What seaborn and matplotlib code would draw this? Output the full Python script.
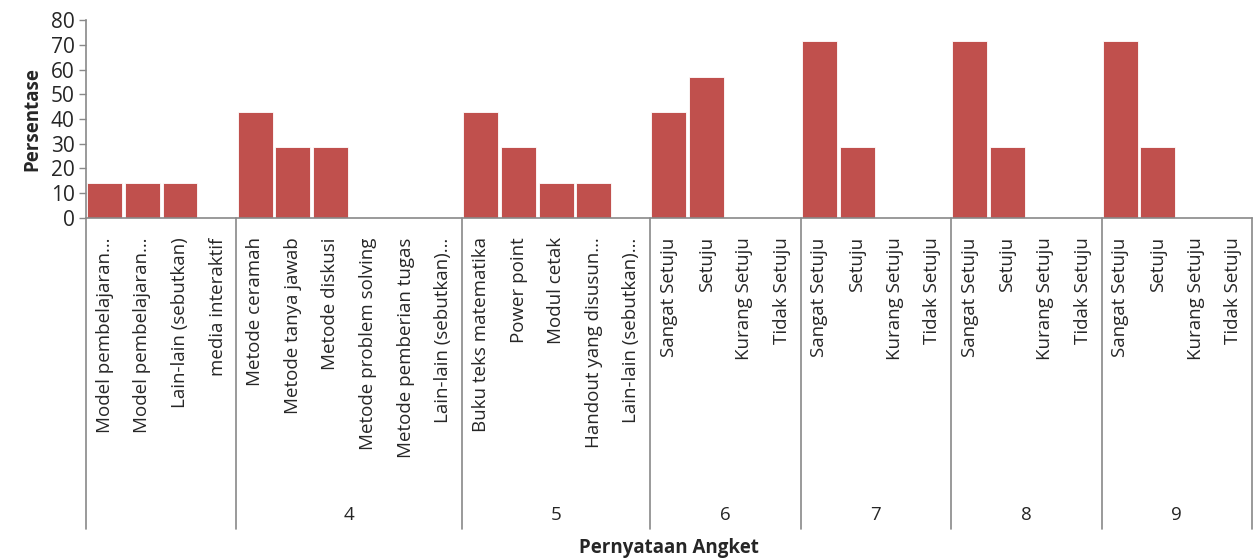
import matplotlib
matplotlib.use("Agg")
import matplotlib.pyplot as plt
import matplotlib.transforms as mtransforms
import pandas as pd
import seaborn as sns

# Response categories, grouped by questionnaire item
group_names = ["", "4", "5", "6", "7", "8", "9"]
group_items = [
    ["Model pembelajaran…", "Model pembelajaran…", "Lain-lain (sebutkan)", "media interaktif"],
    ["Metode ceramah", "Metode tanya jawab", "Metode diskusi", "Metode problem solving",
     "Metode pemberian tugas", "Lain-lain (sebutkan)…"],
    ["Buku teks matematika", "Power point", "Modul cetak", "Handout yang disusun…",
     "Lain-lain (sebutkan)…"],
    ["Sangat Setuju", "Setuju", "Kurang Setuju", "Tidak Setuju"],
    ["Sangat Setuju", "Setuju", "Kurang Setuju", "Tidak Setuju"],
    ["Sangat Setuju", "Setuju", "Kurang Setuju", "Tidak Setuju"],
    ["Sangat Setuju", "Setuju", "Kurang Setuju", "Tidak Setuju"],
]
group_values = [
    [14.3, 14.3, 14.3, 0],
    [42.9, 28.6, 28.6, 0, 0, 0],
    [42.9, 28.6, 14.3, 14.3, 0],
    [42.9, 57.1, 0, 0],
    [71.4, 28.6, 0, 0],
    [71.4, 28.6, 0, 0],
    [71.4, 28.6, 0, 0],
]

rows = []
for g, (name, items, vals) in enumerate(zip(group_names, group_items, group_values)):
    for item, v in zip(items, vals):
        rows.append({"kode": f"{g}-{len(rows)}", "grup": name, "label": item, "persen": v})
df = pd.DataFrame(rows)

sns.set_style("white")
plt.rcParams["font.family"] = ["Open Sans", "DejaVu Sans"]

fig = plt.figure(figsize=(12.53, 5.6), dpi=100)
ax = fig.add_axes([0.0686, 0.611, 0.9306, 0.353])

BAR = "#C0504D"
LINE = "#898989"

sns.barplot(data=df, x="kode", y="persen", order=list(df["kode"]), color=BAR,
            saturation=1, width=0.93, edgecolor="white", linewidth=0.6, ax=ax)

n = len(df)
ax.set_xlim(-0.5, n - 0.5)
ax.set_ylim(0, 80)
ax.set_yticks(range(0, 81, 10))
ax.tick_params(axis="y", labelsize=15, length=5, width=1, color=LINE, pad=3, left=True)
ax.set_xticks(range(n))
ax.set_xticklabels(df["label"], rotation=90, fontsize=13.5)
ax.tick_params(axis="x", length=0, pad=14)

for side in ["top", "right"]:
    ax.spines[side].set_visible(False)
for side in ["left", "bottom"]:
    ax.spines[side].set_color(LINE)
    ax.spines[side].set_linewidth(1.2)

ax.set_ylabel("Persentase", fontsize=13.5, fontweight="bold", labelpad=6)
ax.set_xlabel("")

# Group separators and group labels below the category axis
trans = mtransforms.blended_transform_factory(ax.transData, ax.transAxes)
start = -0.5
edges = [start]
for items in group_items:
    edges.append(edges[-1] + len(items))
for e in edges:
    ax.plot([e, e], [0, -1.576], color=LINE, lw=1.2, transform=trans, clip_on=False)
for name, a, b in zip(group_names, edges[:-1], edges[1:]):
    ax.text((a + b) / 2, -1.505, name, transform=trans, ha="center", va="center",
            fontsize=13.5)

fig.text(0.534, 0.021, "Pernyataan Angket", ha="center", va="center",
         fontsize=13.5, fontweight="bold")

fig.savefig("out.png", dpi=100, facecolor="white")
